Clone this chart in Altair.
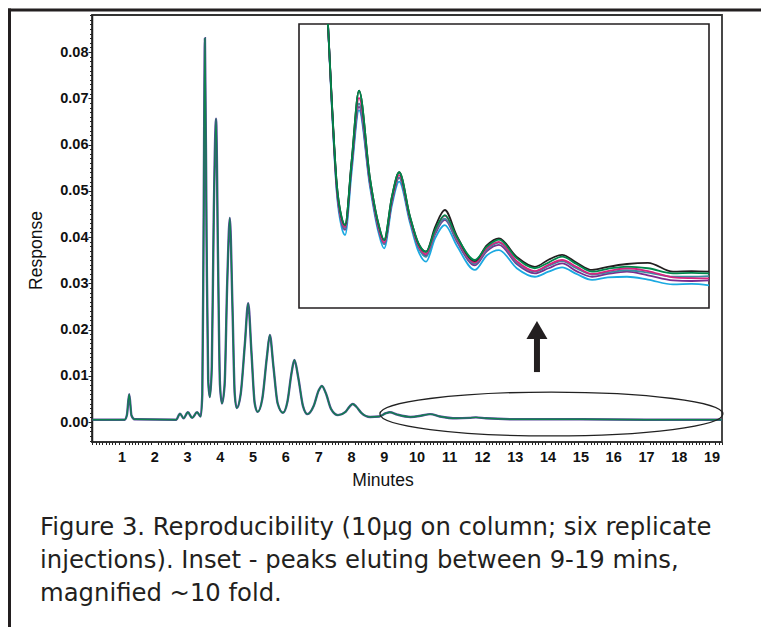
import altair as alt
import pandas as pd

# ---------------- data ----------------
# main chromatogram (minutes, response)
main_t = [0.1, 1.08, 1.15, 1.22, 1.29, 1.38, 2.65, 2.77, 2.88, 3.01, 3.14, 3.29, 3.40, 3.45,
          3.49, 3.53, 3.58, 3.63, 3.68, 3.74, 3.80, 3.87, 3.93, 3.99, 4.05, 4.13, 4.21, 4.29,
          4.37, 4.44, 4.50, 4.62, 4.75, 4.85, 4.95, 5.05, 5.14, 5.28, 5.42, 5.51, 5.62, 5.75,
          5.91, 6.05, 6.17, 6.26, 6.38, 6.52, 6.66, 6.85, 7.00, 7.10, 7.22, 7.38, 7.59, 7.82,
          7.95, 8.04, 8.15, 8.30, 8.57, 8.85, 9.05, 9.17, 9.40, 9.80, 10.15, 10.40, 10.70,
          11.20, 11.60, 11.80, 12.10, 13.00, 15.00, 17.00, 19.30]
main_r = [0.0005, 0.0005, 0.0015, 0.0060, 0.0014, 0.0006, 0.0005, 0.0018, 0.0008, 0.0021,
          0.0009, 0.0021, 0.0012, 0.0060, 0.0420, 0.0830, 0.0400, 0.0090, 0.0054, 0.0120,
          0.0450, 0.0656, 0.0350, 0.0080, 0.0040, 0.0080, 0.0300, 0.0441, 0.0250, 0.0060,
          0.0030, 0.0060, 0.0170, 0.0257, 0.0150, 0.0040, 0.0022, 0.0050, 0.0140, 0.0188,
          0.0120, 0.0040, 0.0020, 0.0045, 0.0105, 0.0134, 0.0095, 0.0035, 0.0017, 0.0035,
          0.0068, 0.0078, 0.0062, 0.0028, 0.0015, 0.0022, 0.0034, 0.0039, 0.0033, 0.0020,
          0.0011, 0.0012, 0.0019, 0.0021, 0.0016, 0.0011, 0.0014, 0.0017, 0.0012, 0.0008,
          0.0009, 0.0010, 0.0008, 0.0006, 0.0006, 0.0005, 0.0005]

# inset (magnified tail), six replicate injections, relative units
inset_t = [8.28, 8.39, 8.53, 8.67, 8.77, 8.96, 9.17, 9.48, 9.72, 9.89, 10.11, 10.32, 10.63,
           10.87, 11.09, 11.35, 11.63, 11.97, 12.49, 12.83, 13.18, 13.69, 14.21, 14.60, 14.99,
           15.40, 15.85, 16.30, 16.85, 17.45, 18.17, 18.70, 19.20]
inset_cyan = [100, 71, 41, 28.5, 25.7, 48, 69.7, 43, 27, 21, 36, 44.5, 30, 20, 16.3, 24.5, 29.2,
              22, 13.4, 18.5, 20.4, 14, 11, 12.8, 14.3, 12, 9.9, 10.8, 11, 10, 8.3, 8.5, 8]
inset_purple = [100, 72, 42, 30, 27.5, 50, 70.9, 44, 28, 22.5, 37, 45.8, 31, 21.5, 18.5, 26, 31,
                23.5, 15, 20, 22.2, 15.5, 12.2, 14, 15.7, 13, 11, 12, 12.8, 11.5, 9.7, 9.5, 9.7]
inset_magenta = [100, 72.5, 43, 31, 28.5, 51, 74, 45, 29, 23, 38, 46.8, 31.5, 22, 19, 27, 32.5,
                 24.5, 16, 21, 23.3, 16.5, 13, 15.2, 16.9, 14.5, 12, 13, 14, 13, 10.8, 10.5, 10.4]
inset_teal = [100, 72, 43, 30.5, 28, 50.5, 72, 44.5, 28.5, 22.5, 37.5, 46, 31, 21.5, 18, 26.5,
              31.5, 24, 15.5, 20.5, 23, 16, 12.8, 14.8, 16.5, 14, 11.8, 12.5, 13.3, 12.5, 11, 11, 11.2]
inset_black = [100, 73, 44, 32, 29.2, 52, 76.5, 46, 30, 23.9, 39, 47.8, 32.2, 22.8, 19.8, 28.5,
               34.5, 25.5, 16.5, 22, 24.5, 18, 14.5, 17, 18.7, 16, 13.4, 14.5, 15.5, 15.9, 12.8, 13, 12.8]
inset_green = [100, 73, 44, 32, 29.2, 52, 76.5, 46, 30, 23.9, 39, 47.8, 32.2, 22.8, 19.8, 27.5,
               32.7, 25.1, 16.9, 21.6, 24.1, 17.5, 14, 16, 18.1, 15.5, 12.8, 13.8, 14.6, 14, 12.2, 12.4, 12.2]
inset_series = [("cyan", inset_cyan, "#1ba9e1"), ("purple", inset_purple, "#7b2d8e"),
                ("teal", inset_teal, "#3a8ca0"), ("magenta", inset_magenta, "#d6247f"),
                ("black", inset_black, "#231f20"), ("green", inset_green, "#00874b")]

x_ticks = list(range(1, 20))
x_tick_labels = [str(v) for v in x_ticks]
y_ticks = [0.00, 0.01, 0.02, 0.03, 0.04, 0.05, 0.06, 0.07, 0.08]
x_minor = [round(i * 0.1, 1) for i in range(1, 194) if i % 10 != 0]
y_minor = [round(i * 0.001, 3) for i in range(-4, 89) if i % 10 != 0]
x_title = ["Minutes"]

ellipse_x = [14.10]
ellipse_y = [0.00173]
arrow_x = [13.66]
arrow_y = [0.0108]
arrow_y2 = [0.0180]
arrow_head_y = [0.0199]

caption_lines = ["Figure 3. Reproducibility (10µg on column; six replicate",
                 "injections). Inset - peaks eluting between 9-19 mins,",
                 "magnified ~10 fold."]

# ---------------- chart ----------------
W, H = 630, 427
X_DOMAIN = [0.085, 19.305]
Y_DOMAIN = [-0.00432, 0.0880]
INSET_X = [7.45, 19.2]
INSET_Y = [0, 100]
LABEL_SIZE = 14.5
TITLE_SIZE = 17.5

main_df = pd.DataFrame({"t": main_t, "r": main_r})
xs = alt.Scale(domain=X_DOMAIN, nice=False, zero=False)
ys = alt.Scale(domain=Y_DOMAIN, nice=False, zero=False)

AX = dict(domainColor="#222", domainWidth=1.5, tickColor="#222", grid=False,
          labelFont="Liberation Sans", labelFontSize=LABEL_SIZE, labelFontWeight="bold",
          labelColor="#111", titleFont="Liberation Sans", titleFontSize=TITLE_SIZE,
          titleFontWeight="normal", titleColor="#111", labelOverlap=False, labelFlush=False)

x_major = alt.Axis(values=x_ticks, orient="bottom", tickSize=5, labels=False, title=None, **AX)
y_major = alt.Axis(values=y_ticks, orient="left", format=".2f", tickSize=4, labelPadding=0,
                   title="Response", titleX=-56, titleY=235, titleBaseline="middle", **AX)
x_min_ax = alt.Axis(values=x_minor, orient="bottom", tickSize=2.5, labels=False, title=None,
                    domain=False, grid=False, tickColor="#222")
y_min_ax = alt.Axis(values=y_minor, orient="left", tickSize=2.5, labels=False, title=None,
                    domain=False, grid=False, tickColor="#222")

under = alt.Chart(main_df).mark_line(color="#5b4a9c", strokeWidth=2.4, interpolate="monotone").encode(
    x=alt.X("t:Q", scale=xs, axis=x_major), y=alt.Y("r:Q", scale=ys, axis=y_major))
over = alt.Chart(main_df).mark_line(color="#10804f", strokeWidth=1.4, interpolate="monotone").encode(
    x=alt.X("t:Q"), y=alt.Y("r:Q"))

# x tick labels as text at the tick values
xl_df = pd.DataFrame({"t": x_ticks, "lab": x_tick_labels})
xlabels = alt.Chart(xl_df).mark_text(font="Liberation Sans", fontSize=LABEL_SIZE, fontWeight="bold",
                                     color="#111", baseline="middle", align="center").encode(
    x=alt.X("t:Q", axis=None), y=alt.value(H + 16), text="lab:N")

ell_df = pd.DataFrame({"t": ellipse_x, "r": ellipse_y})
ellipse_path = ("M -1 0 C -1 -0.0707 -0.5523 -0.128 0 -0.128 C 0.5523 -0.128 1 -0.0707 1 0 "
                "C 1 0.0707 0.5523 0.128 0 0.128 C -0.5523 0.128 -1 0.0707 -1 0 Z")
ellipse = alt.Chart(ell_df).mark_point(shape=ellipse_path, size=343 * 343, filled=False,
                                       stroke="#222", strokeWidth=1.3, opacity=1).encode(
    x="t:Q", y="r:Q")

arr_df = pd.DataFrame({"t": arrow_x, "r": arrow_y, "r2": arrow_y2, "h": arrow_head_y})
shaft = alt.Chart(arr_df).mark_rule(color="#231f20", strokeWidth=6).encode(
    x="t:Q", y="r:Q", y2="r2:Q")
head = alt.Chart(arr_df).mark_point(shape="triangle-up", size=441, filled=True, color="#231f20",
                                    opacity=1).encode(x="t:Q", y="h:Q")

minor = alt.Chart(main_df).mark_line(opacity=0).encode(
    x=alt.X("t:Q", scale=xs, axis=x_min_ax), y=alt.Y("r:Q", scale=ys, axis=y_min_ax))

main = alt.layer(alt.layer(under, over, ellipse, shaft, head, xlabels), minor).resolve_axis(
    x="independent", y="independent")

# inset panel with its own scales, placed in the upper right of the plot
ixs = alt.Scale(domain=INSET_X, range=[207, 617], nice=False, zero=False)
iys = alt.Scale(domain=INSET_Y, range=[293, 9], nice=False, zero=False)
box_df = pd.DataFrame({"x": [INSET_X[0]], "x2": [INSET_X[1]], "y": [INSET_Y[0]], "y2": [INSET_Y[1]]})
box = alt.Chart(box_df).mark_rect(fill="white", stroke="#231f20", strokeWidth=1.6).encode(
    x=alt.X("x:Q", scale=ixs, axis=None), x2="x2:Q",
    y=alt.Y("y:Q", scale=iys, axis=None), y2="y2:Q")
inset_layers = [box]
for name, vals, col in inset_series:
    d = pd.DataFrame({"x": inset_t, "y": vals})
    inset_layers.append(alt.Chart(d).mark_line(color=col, strokeWidth=1.8, interpolate="monotone").encode(
        x=alt.X("x:Q"), y=alt.Y("y:Q")))
inset = alt.layer(*inset_layers)

# x axis title, outer frame and caption
xt = alt.Chart(pd.DataFrame({"txt": x_title})).mark_text(
    font="Liberation Sans", fontSize=TITLE_SIZE, color="#111", align="center", baseline="middle").encode(
    text="txt:N", x=alt.value(291), y=alt.value(H + 39))
frame_df = pd.DataFrame({"k": [0]})
frame_top = alt.Chart(frame_df).mark_rule(color="#231f20", strokeWidth=3).encode(
    x=alt.value(-84), x2=alt.value(669), y=alt.value(-5))
frame_left = alt.Chart(frame_df).mark_rule(color="#231f20", strokeWidth=3).encode(
    x=alt.value(-82.5), y=alt.value(-6.5), y2=alt.value(612))
cap_layers = []
for i, line in enumerate(caption_lines):
    cdf = pd.DataFrame({"txt": [line]})
    cap_layers.append(alt.Chart(cdf).mark_text(align="left", baseline="alphabetic",
                                               font="DejaVu Sans", fontSize=24.3, color="#231f20").encode(
        text="txt:N", x=alt.value(-52), y=alt.value(520 + 33 * i)))

chart = alt.layer(main, inset, xt, frame_top, frame_left, *cap_layers).resolve_scale(
    x="independent", y="independent").properties(
    width=W, height=H,
    autosize=alt.AutoSizeParams(type="none"),
    padding={"left": 84, "top": 7, "right": 39, "bottom": 185},
).configure_view(stroke="#333", strokeWidth=1.8)

chart.save("out.html", embed_options={"renderer": "svg", "actions": False})
